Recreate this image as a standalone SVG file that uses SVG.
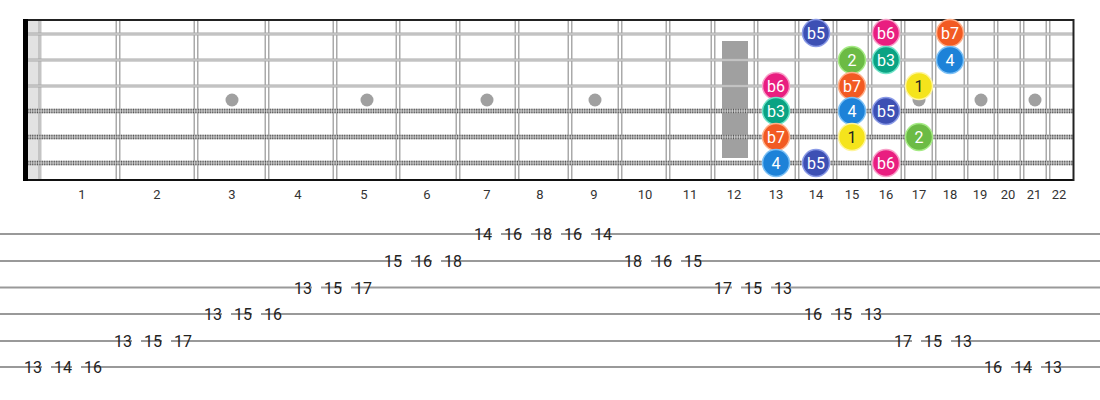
<svg xmlns="http://www.w3.org/2000/svg" width="1100" height="400" viewBox="0 0 1100 400">
<style>
.fret{stroke:#aaaaaa;stroke-width:5}
.fretin{stroke:#ffffff;stroke-width:2}
.plain{stroke:#a8a8a8;stroke-width:3.2}
.plainin{stroke:#dddddd;stroke-width:1}
.wound{stroke:#b5b5b5;stroke-width:4.5}
.woundd{stroke:#555555;stroke-width:4.5;stroke-dasharray:1 1.4}
.woundin{stroke:#ffffff;stroke-width:0.8;opacity:0.7}
.dot{fill:#a0a0a0}
.flab{font-family:Roboto,"Liberation Sans",sans-serif;font-size:13px;fill:#333;text-anchor:middle}
.nt{font-family:Roboto,"Liberation Sans",sans-serif;font-size:16px;fill:#fff;text-anchor:middle}
.tabl{stroke:#999;stroke-width:1.8}
.tab{font-family:Roboto,"Liberation Sans",sans-serif;font-size:16px;fill:#222;text-anchor:middle}
.c1{fill:#f5e41c;stroke:#fff59d;stroke-width:1.5}
.c2{fill:#6cbb45;stroke:#a5ea84;stroke-width:1.5}
.cb3{fill:#0aa383;stroke:#6fe3c8;stroke-width:1.5}
.c4{fill:#1d82d8;stroke:#7cc0f5;stroke-width:1.5}
.cb5{fill:#3d50b4;stroke:#8a9ae6;stroke-width:1.5}
.cb6{fill:#e91e80;stroke:#f7a0c8;stroke-width:1.5}
.cb7{fill:#f25a22;stroke:#ffb08a;stroke-width:1.5}
</style>
<rect width="1100" height="400" fill="#ffffff"/>
<g id="fretboard">
  <rect x="28" y="20" width="10" height="160" fill="#e2e2e2"/>
  <rect x="38" y="20" width="3.5" height="160" fill="#c4c4c4"/>
  <g id="frets">
    <line class="fret" x1="118" y1="20" x2="118" y2="180"/><line class="fretin" x1="118" y1="20" x2="118" y2="180"/>
    <line class="fret" x1="196" y1="20" x2="196" y2="180"/><line class="fretin" x1="196" y1="20" x2="196" y2="180"/>
    <line class="fret" x1="267" y1="20" x2="267" y2="180"/><line class="fretin" x1="267" y1="20" x2="267" y2="180"/>
    <line class="fret" x1="335" y1="20" x2="335" y2="180"/><line class="fretin" x1="335" y1="20" x2="335" y2="180"/>
    <line class="fret" x1="398" y1="20" x2="398" y2="180"/><line class="fretin" x1="398" y1="20" x2="398" y2="180"/>
    <line class="fret" x1="458" y1="20" x2="458" y2="180"/><line class="fretin" x1="458" y1="20" x2="458" y2="180"/>
    <line class="fret" x1="517" y1="20" x2="517" y2="180"/><line class="fretin" x1="517" y1="20" x2="517" y2="180"/>
    <line class="fret" x1="570" y1="20" x2="570" y2="180"/><line class="fretin" x1="570" y1="20" x2="570" y2="180"/>
    <line class="fret" x1="620" y1="20" x2="620" y2="180"/><line class="fretin" x1="620" y1="20" x2="620" y2="180"/>
    <line class="fret" x1="668" y1="20" x2="668" y2="180"/><line class="fretin" x1="668" y1="20" x2="668" y2="180"/>
    <line class="fret" x1="713" y1="20" x2="713" y2="180"/><line class="fretin" x1="713" y1="20" x2="713" y2="180"/>
    <line class="fret" x1="756" y1="20" x2="756" y2="180"/><line class="fretin" x1="756" y1="20" x2="756" y2="180"/>
    <line class="fret" x1="797" y1="20" x2="797" y2="180"/><line class="fretin" x1="797" y1="20" x2="797" y2="180"/>
    <line class="fret" x1="835" y1="20" x2="835" y2="180"/><line class="fretin" x1="835" y1="20" x2="835" y2="180"/>
    <line class="fret" x1="870" y1="20" x2="870" y2="180"/><line class="fretin" x1="870" y1="20" x2="870" y2="180"/>
    <line class="fret" x1="903" y1="20" x2="903" y2="180"/><line class="fretin" x1="903" y1="20" x2="903" y2="180"/>
    <line class="fret" x1="934" y1="20" x2="934" y2="180"/><line class="fretin" x1="934" y1="20" x2="934" y2="180"/>
    <line class="fret" x1="966" y1="20" x2="966" y2="180"/><line class="fretin" x1="966" y1="20" x2="966" y2="180"/>
    <line class="fret" x1="996" y1="20" x2="996" y2="180"/><line class="fretin" x1="996" y1="20" x2="996" y2="180"/>
    <line class="fret" x1="1022" y1="20" x2="1022" y2="180"/><line class="fretin" x1="1022" y1="20" x2="1022" y2="180"/>
    <line class="fret" x1="1048" y1="20" x2="1048" y2="180"/><line class="fretin" x1="1048" y1="20" x2="1048" y2="180"/>
  </g>
  <g id="inlays">
    <circle class="dot" cx="232" cy="100" r="6.5"/>
    <circle class="dot" cx="367" cy="100" r="6.5"/>
    <circle class="dot" cx="487" cy="100" r="6.5"/>
    <circle class="dot" cx="595" cy="100" r="6.5"/>
    <rect x="722" y="41" width="26" height="117" fill="#a0a0a0"/>
    <circle class="dot" cx="852" cy="100" r="6.5"/>
    <circle class="dot" cx="919" cy="100" r="6.5"/>
    <circle class="dot" cx="981" cy="100" r="6.5"/>
    <circle class="dot" cx="1035" cy="100" r="6.5"/>
  </g>
  <g id="strings">
    <line class="plain" x1="25" y1="34" x2="1074" y2="34"/><line class="plainin" x1="25" y1="34" x2="1074" y2="34"/>
    <line class="plain" x1="25" y1="60" x2="1074" y2="60"/><line class="plainin" x1="25" y1="60" x2="1074" y2="60"/>
    <line class="plain" x1="25" y1="86" x2="1074" y2="86"/><line class="plainin" x1="25" y1="86" x2="1074" y2="86"/>
    <line class="wound" x1="25" y1="111" x2="1074" y2="111"/><line class="woundd" x1="25" y1="111" x2="1074" y2="111"/><line class="woundin" x1="25" y1="111" x2="1074" y2="111"/>
    <line class="wound" x1="25" y1="137" x2="1074" y2="137"/><line class="woundd" x1="25" y1="137" x2="1074" y2="137"/><line class="woundin" x1="25" y1="137" x2="1074" y2="137"/>
    <line class="wound" x1="25" y1="163" x2="1074" y2="163"/><line class="woundd" x1="25" y1="163" x2="1074" y2="163"/><line class="woundin" x1="25" y1="163" x2="1074" y2="163"/>
  </g>
  <line x1="23" y1="20" x2="1074" y2="20" stroke="#222" stroke-width="2"/>
  <line x1="23" y1="180" x2="1074" y2="180" stroke="#111" stroke-width="2"/>
  <line x1="1073.5" y1="19" x2="1073.5" y2="181" stroke="#222" stroke-width="2"/>
  <rect x="23" y="19" width="5" height="162" fill="#000"/>
</g>
<g id="fret-numbers">
  <text class="flab" x="82" y="199">1</text>
  <text class="flab" x="157" y="199">2</text>
  <text class="flab" x="232" y="199">3</text>
  <text class="flab" x="298" y="199">4</text>
  <text class="flab" x="364" y="199">5</text>
  <text class="flab" x="427" y="199">6</text>
  <text class="flab" x="487" y="199">7</text>
  <text class="flab" x="540" y="199">8</text>
  <text class="flab" x="594" y="199">9</text>
  <text class="flab" x="645" y="199">10</text>
  <text class="flab" x="690" y="199">11</text>
  <text class="flab" x="734" y="199">12</text>
  <text class="flab" x="776" y="199">13</text>
  <text class="flab" x="816" y="199">14</text>
  <text class="flab" x="852" y="199">15</text>
  <text class="flab" x="886" y="199">16</text>
  <text class="flab" x="919" y="199">17</text>
  <text class="flab" x="950" y="199">18</text>
  <text class="flab" x="980" y="199">19</text>
  <text class="flab" x="1008" y="199">20</text>
  <text class="flab" x="1034" y="199">21</text>
  <text class="flab" x="1059" y="199">22</text>
</g>
<g id="notes">
  <g id="n-s1-f14"><circle class="cb5" cx="816" cy="33" r="13.5"/><text class="nt" x="816" y="39">b5</text></g>
  <g id="n-s1-f16"><circle class="cb6" cx="886" cy="33" r="13.5"/><text class="nt" x="886" y="39">b6</text></g>
  <g id="n-s1-f18"><circle class="cb7" cx="950" cy="33" r="13.5"/><text class="nt" x="950" y="39">b7</text></g>
  <g id="n-s2-f15"><circle class="c2" cx="852" cy="60" r="13.5"/><text class="nt" x="852" y="66">2</text></g>
  <g id="n-s2-f16"><circle class="cb3" cx="886" cy="60" r="13.5"/><text class="nt" x="886" y="66">b3</text></g>
  <g id="n-s2-f18"><circle class="c4" cx="950" cy="60" r="13.5"/><text class="nt" x="950" y="66">4</text></g>
  <g id="n-s3-f13"><circle class="cb6" cx="776" cy="86" r="13.5"/><text class="nt" x="776" y="92">b6</text></g>
  <g id="n-s3-f15"><circle class="cb7" cx="852" cy="86" r="13.5"/><text class="nt" x="852" y="92">b7</text></g>
  <g id="n-s3-f17"><circle class="c1" cx="919" cy="86" r="13.5"/><text class="nt" x="919" y="92" style="fill:#222">1</text></g>
  <g id="n-s4-f13"><circle class="cb3" cx="776" cy="111" r="13.5"/><text class="nt" x="776" y="117">b3</text></g>
  <g id="n-s4-f15"><circle class="c4" cx="852" cy="111" r="13.5"/><text class="nt" x="852" y="117">4</text></g>
  <g id="n-s4-f16"><circle class="cb5" cx="886" cy="111" r="13.5"/><text class="nt" x="886" y="117">b5</text></g>
  <g id="n-s5-f13"><circle class="cb7" cx="776" cy="137" r="13.5"/><text class="nt" x="776" y="143">b7</text></g>
  <g id="n-s5-f15"><circle class="c1" cx="852" cy="137" r="13.5"/><text class="nt" x="852" y="143" style="fill:#222">1</text></g>
  <g id="n-s5-f17"><circle class="c2" cx="919" cy="137" r="13.5"/><text class="nt" x="919" y="143">2</text></g>
  <g id="n-s6-f13"><circle class="c4" cx="776" cy="163" r="13.5"/><text class="nt" x="776" y="169">4</text></g>
  <g id="n-s6-f14"><circle class="cb5" cx="816" cy="163" r="13.5"/><text class="nt" x="816" y="169">b5</text></g>
  <g id="n-s6-f16"><circle class="cb6" cx="886" cy="163" r="13.5"/><text class="nt" x="886" y="169">b6</text></g>
</g>
<g id="tab-lines">
  <line class="tabl" x1="0" y1="234" x2="1100" y2="234"/>
  <line class="tabl" x1="0" y1="261" x2="1100" y2="261"/>
  <line class="tabl" x1="0" y1="287.5" x2="1100" y2="287.5"/>
  <line class="tabl" x1="0" y1="314" x2="1100" y2="314"/>
  <line class="tabl" x1="0" y1="341" x2="1100" y2="341"/>
  <line class="tabl" x1="0" y1="367" x2="1100" y2="367"/>
</g>
<g id="tab-numbers">
  <g fill="#fff">
    <rect x="42" y="362" width="9" height="10"/><rect x="72" y="362" width="9" height="10"/>
    <rect x="132" y="336" width="9" height="10"/><rect x="162" y="336" width="9" height="10"/>
    <rect x="222" y="309" width="9" height="10"/><rect x="252" y="309" width="9" height="10"/>
    <rect x="312" y="282.5" width="9" height="10"/><rect x="342" y="282.5" width="9" height="10"/>
    <rect x="402" y="256" width="9" height="10"/><rect x="432" y="256" width="9" height="10"/>
    <rect x="492" y="229" width="9" height="10"/><rect x="522" y="229" width="9" height="10"/><rect x="552" y="229" width="9" height="10"/><rect x="582" y="229" width="9" height="10"/>
    <rect x="642" y="256" width="9" height="10"/><rect x="672" y="256" width="9" height="10"/>
    <rect x="732" y="282.5" width="9" height="10"/><rect x="762" y="282.5" width="9" height="10"/>
    <rect x="822" y="309" width="9" height="10"/><rect x="852" y="309" width="9" height="10"/>
    <rect x="912" y="336" width="9" height="10"/><rect x="942" y="336" width="9" height="10"/>
    <rect x="1002" y="362" width="9" height="10"/><rect x="1032" y="362" width="9" height="10"/>
  </g>
  <text class="tab" x="33" y="373">13</text><text class="tab" x="63" y="373">14</text><text class="tab" x="93" y="373">16</text>
  <text class="tab" x="123" y="347">13</text><text class="tab" x="153" y="347">15</text><text class="tab" x="183" y="347">17</text>
  <text class="tab" x="213" y="320">13</text><text class="tab" x="243" y="320">15</text><text class="tab" x="273" y="320">16</text>
  <text class="tab" x="303" y="293.5">13</text><text class="tab" x="333" y="293.5">15</text><text class="tab" x="363" y="293.5">17</text>
  <text class="tab" x="393" y="267">15</text><text class="tab" x="423" y="267">16</text><text class="tab" x="453" y="267">18</text>
  <text class="tab" x="483" y="240">14</text><text class="tab" x="513" y="240">16</text><text class="tab" x="543" y="240">18</text><text class="tab" x="573" y="240">16</text><text class="tab" x="603" y="240">14</text>
  <text class="tab" x="633" y="267">18</text><text class="tab" x="663" y="267">16</text><text class="tab" x="693" y="267">15</text>
  <text class="tab" x="723" y="293.5">17</text><text class="tab" x="753" y="293.5">15</text><text class="tab" x="783" y="293.5">13</text>
  <text class="tab" x="813" y="320">16</text><text class="tab" x="843" y="320">15</text><text class="tab" x="873" y="320">13</text>
  <text class="tab" x="903" y="347">17</text><text class="tab" x="933" y="347">15</text><text class="tab" x="963" y="347">13</text>
  <text class="tab" x="993" y="373">16</text><text class="tab" x="1023" y="373">14</text><text class="tab" x="1053" y="373">13</text>
</g>
</svg>
